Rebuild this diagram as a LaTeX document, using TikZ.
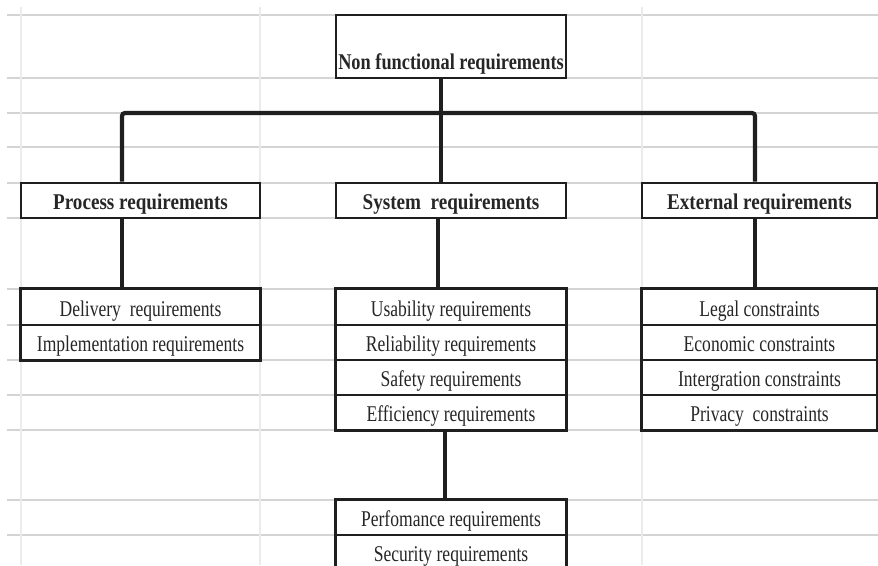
\documentclass[tikz,border=0pt]{standalone}
\usepackage{fontspec}
\newfontfamily\cellfont{Liberation Serif}[FakeStretch=0.78]
\newfontfamily\headfont{Liberation Serif}[FakeStretch=0.85]
\newfontfamily\rootfont{Liberation Serif}[FakeStretch=0.815]
\begin{document}
\begin{tikzpicture}[x=1pt,y=-1pt,
  hgrid/.style={draw=black!17, line width=1.3pt},
  vgrid/.style={draw=black!8, line width=2pt},
  cell/.style={draw=black!88, line width=1.2pt, fill=white, inner sep=0pt,
    text height=18pt, text depth=0pt, text=black!85,
    font=\cellfont\fontsize{22.5}{26}\selectfont},
  head/.style={cell, line width=2.6pt,
    font=\headfont\bfseries\fontsize{22.5}{26}\selectfont},
  rootbox/.style={head, font=\rootfont\bfseries\fontsize{22.5}{26}\selectfont},
  frame/.style={draw=black!88, line width=2.6pt},
  conn/.style={draw=black!88, line width=3.4pt},
  bus/.style={draw=black!88, line width=4.2pt, rounded corners=3pt},
  colA/.style={minimum width=239pt},
  colC/.style={minimum width=230pt},
  colE/.style={minimum width=235pt}
]
\useasboundingbox (0,0) rectangle (878,565);
\clip (0,0) rectangle (878,565);

% spreadsheet grid
\foreach \y in {15,78,113,147,183,218,289,325,360,395,430,500,535}
  \draw[hgrid] (7,\y) -- (878,\y);
\foreach \x in {21,260,642}
  \draw[vgrid] (\x,7) -- (\x,565);

% root
\node[rootbox, colC, minimum height=63pt, text height=45pt] (nfr) at (451,46.5)
  {Non functional requirements};

% second level
\node[head, colA, minimum height=35pt] (proc) at (140.5,200.5) {Process requirements};
\node[head, colC, minimum height=35pt] (sys)  at (451,200.5)   {System\ \ requirements};
\node[head, colE, minimum height=35pt] (ext)  at (759.5,200.5) {External requirements};

% process requirements
\node[cell, colA, minimum height=36pt] (del)  at (140.5,307)   {Delivery\ \ requirements};
\node[cell, colA, minimum height=35pt] (impl) at (140.5,342.5) {Implementation requirements};
\draw[frame] (del.north west) rectangle (impl.south east);

% system requirements
\node[cell, colC, minimum height=36pt] (use) at (451,307)   {Usability requirements};
\node[cell, colC, minimum height=35pt] (rel) at (451,342.5) {Reliability requirements};
\node[cell, colC, minimum height=35pt] (saf) at (451,377.5) {Safety requirements};
\node[cell, colC, minimum height=35pt] (eff) at (451,412.5) {Efficiency requirements};
\draw[frame] (use.north west) rectangle (eff.south east);

\node[cell, colC, minimum height=35pt] (perf) at (451,517.5) {Perfomance requirements};
\node[cell, colC, minimum height=35pt] (sec)  at (451,552.5) {Security requirements};
\draw[frame] (perf.north west) rectangle (sec.south east);

% external requirements
\node[cell, colE, minimum height=36pt] (leg) at (759.5,307)   {Legal constraints};
\node[cell, colE, minimum height=35pt] (eco) at (759.5,342.5) {Economic constraints};
\node[cell, colE, minimum height=35pt] (itg) at (759.5,377.5) {Intergration constraints};
\node[cell, colE, minimum height=35pt] (prv) at (759.5,412.5) {Privacy\ \ constraints};
\draw[frame] (leg.north west) rectangle (prv.south east);

% connectors
\coordinate (bar) at (441,113);
\draw[bus] ([xshift=-18.5pt]proc.north) |- (bar) -| ([xshift=-4.5pt]ext.north);
\draw[conn] ([xshift=-10pt]nfr.south) -- ([xshift=-10pt]sys.north);
\draw[conn] ([xshift=-18.5pt]proc.south) -- ([xshift=-18.5pt]del.north);
\draw[conn] ([xshift=-13pt]sys.south) -- ([xshift=-13pt]use.north);
\draw[conn] ([xshift=-4.5pt]ext.south) -- ([xshift=-4.5pt]leg.north);
\draw[conn] ([xshift=-6pt]eff.south) -- ([xshift=-6pt]perf.north);
\end{tikzpicture}
\end{document}
